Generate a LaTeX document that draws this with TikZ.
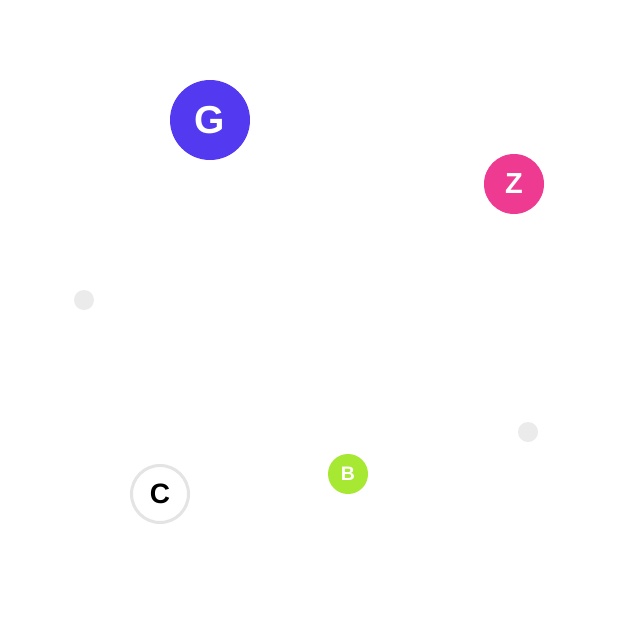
\documentclass[tikz,border=0pt]{standalone}
\usepackage{fontspec}
\setmainfont{Liberation Sans}
\definecolor{gviolet}{RGB}{83,58,240}
\definecolor{zpink}{RGB}{238,58,145}
\definecolor{blime}{RGB}{166,232,50}
\definecolor{dotgray}{RGB}{235,235,235}
\definecolor{ringgray}{RGB}{228,228,228}
\begin{document}
\begin{tikzpicture}[x=1pt,y=-1pt,
		ball/.style = {circle, inner sep=0pt, text=white, font=\bfseries},
		spot/.style = {circle, inner sep=0pt, minimum size=20pt, fill=dotgray}]
			\useasboundingbox[fill=white] (0,0) rectangle (640,640);
			\node (g) at (210,120) [ball, fill=gviolet, minimum size=80pt, font=\bfseries\fontsize{39}{39}\selectfont] {G};
			\node (z) at (514,184) [ball, fill=zpink, minimum size=60pt, font=\bfseries\fontsize{29}{29}\selectfont] {Z};
			\node (c) at (160,494) [ball, fill=white, draw=ringgray, line width=3pt, minimum size=57pt, text=black, font=\bfseries\fontsize{28}{28}\selectfont] {C};
			\node (b) at (348,474) [ball, fill=blime, minimum size=40pt, font=\bfseries\fontsize{19.5}{19.5}\selectfont] {B};
			\node (d1) at (84,300) [spot] {};
			\node (d2) at (528,432) [spot] {};
		\end{tikzpicture}
\end{document}
